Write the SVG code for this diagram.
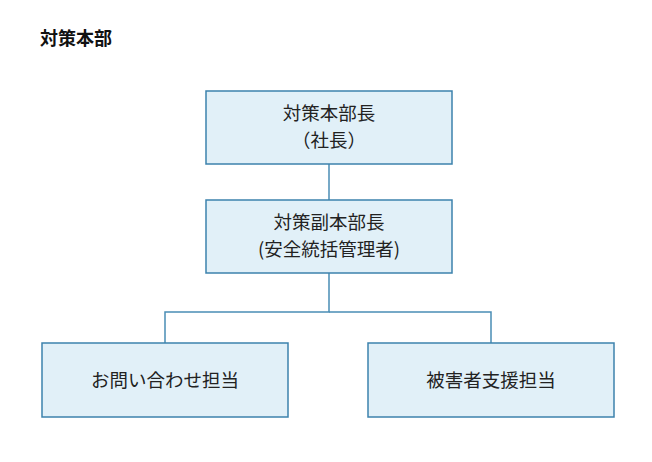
<svg xmlns="http://www.w3.org/2000/svg" width="652" height="462" viewBox="0 0 652 462">
<style>
.box{fill:#e1f0f8;stroke:#3c82ad;stroke-width:1.5}
.t{font-family:"Noto Sans CJK JP","Noto Sans",sans-serif;font-size:18.5px;fill:#222;text-anchor:middle}
.title{font-family:"Noto Sans CJK JP","Noto Sans",sans-serif;font-size:18px;font-weight:bold;fill:#111}
.c{fill:none;stroke:#4a8db5;stroke-width:1.5}
</style>
<rect width="652" height="462" fill="#fff"/>
<text class="title" x="40" y="45">対策本部</text>
<g id="connectors">
<path class="c" d="M329 164V200"/>
<path class="c" d="M329 273V312H165V343"/>
<path class="c" d="M329 312H491V343"/>
</g>
<g id="n1"><rect class="box" x="206" y="91" width="246" height="73"/><text class="t" x="329" y="120">対策本部長</text><text class="t" x="329" y="147">（社長）</text></g>
<g id="n2"><rect class="box" x="206" y="200" width="246" height="73"/><text class="t" x="329" y="229">対策副本部長</text><text class="t" x="329" y="256">(安全統括管理者)</text></g>
<g id="n3"><rect class="box" x="42" y="343" width="246" height="74"/><text class="t" x="165" y="387">お問い合わせ担当</text></g>
<g id="n4"><rect class="box" x="368" y="343" width="246" height="74"/><text class="t" x="491" y="387">被害者支援担当</text></g>
</svg>
